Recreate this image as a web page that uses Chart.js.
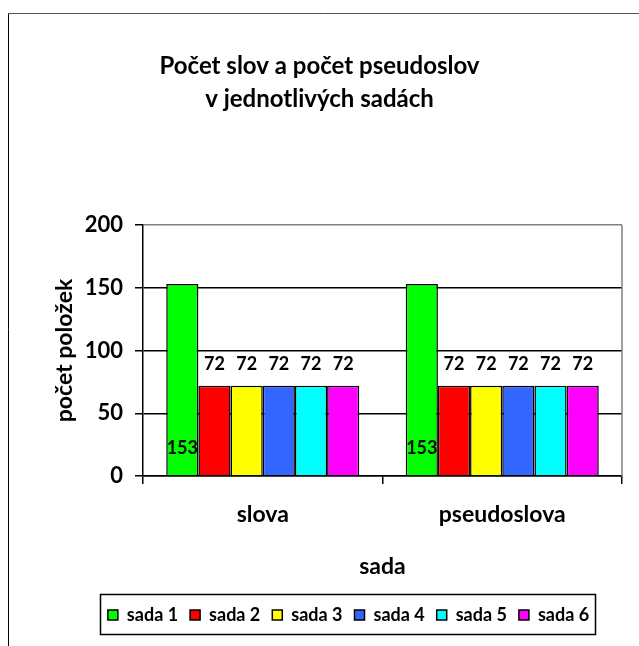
<!DOCTYPE html>
<html>
<head>
<meta charset="utf-8">
<script src="https://cdn.jsdelivr.net/npm/chart.js@4.4.0/dist/chart.umd.min.js"></script>
<style>
html, body { margin: 0; padding: 0; background: #fff; }
canvas { display: block; }
</style>
</head>
<body>
<canvas id="chart" width="639" height="646"></canvas>
<script>
const categories = ['slova', 'pseudoslova'];
const seriesNames = ['sada 1', 'sada 2', 'sada 3', 'sada 4', 'sada 5', 'sada 6'];
const sada1 = [153, 153];
const sada2 = [72, 72];
const sada3 = [72, 72];
const sada4 = [72, 72];
const sada5 = [72, 72];
const sada6 = [72, 72];
const Y_MIN = 0;
const Y_MAX = 200;
const Y_STEP = 50;

const seriesColors = ['#00ff00', '#ff0000', '#ffff00', '#3366ff', '#00ffff', '#ff00ff'];
const allSeries = [sada1, sada2, sada3, sada4, sada5, sada6];

Chart.defaults.font.family = 'Lato, "Open Sans", sans-serif';
Chart.defaults.font.weight = 'bold';
Chart.defaults.color = '#000';

// page frame, white background, grey right edge of the plot
const framePlugin = {
    id: 'frame',
    beforeDraw(chart) {
        const ctx = chart.ctx;
        ctx.save();
        ctx.fillStyle = '#fff';
        ctx.fillRect(0, 0, chart.width, chart.height);
        ctx.lineWidth = 1;
        ctx.strokeStyle = '#000';
        ctx.beginPath();
        ctx.moveTo(8.5, 13);
        ctx.lineTo(8.5, chart.height);
        ctx.stroke();
        ctx.strokeStyle = '#555';
        ctx.beginPath();
        ctx.moveTo(8, 13.5);
        ctx.lineTo(chart.width, 13.5);
        ctx.stroke();
        ctx.restore();
    },
    beforeDatasetsDraw(chart) {
        const a = chart.chartArea;
        const ctx = chart.ctx;
        ctx.save();
        ctx.strokeStyle = '#808080';
        ctx.lineWidth = 1.5;
        ctx.beginPath();
        ctx.moveTo(a.right, a.top);
        ctx.lineTo(a.right, a.bottom);
        ctx.stroke();
        ctx.restore();
    }
};

// legend sits a bit right of the canvas centre in the original
const legendShift = {
    id: 'legendShift',
    afterLayout(chart) {
        chart.legend.left += 29;
        chart.legend.right += 29;
    },
    afterDraw(chart) {
        const lg = chart.legend;
        const hb = lg.legendHitBoxes;
        if (!hb || !hb.length) return;
        const l = Math.min(...hb.map(b => b.left)) - 8;
        const r = Math.max(...hb.map(b => b.left + b.width)) + 6;
        const cy = lg.top + 12 + hb[0].height / 2;
        const ctx = chart.ctx;
        ctx.save();
        ctx.strokeStyle = '#000';
        ctx.lineWidth = 1.5;
        ctx.strokeRect(Math.round(l) + 0.5, Math.round(cy - 21) + 0.5, Math.round(r - l), 40);
        ctx.restore();
    }
};

const valueLabels = {
    id: 'valueLabels',
    afterDatasetsDraw(chart) {
        const ctx = chart.ctx;
        ctx.save();
        ctx.font = 'bold 18px Lato, "Open Sans", sans-serif';
        ctx.fillStyle = '#000';
        ctx.textAlign = 'center';
        ctx.textBaseline = 'middle';
        chart.data.datasets.forEach((ds, i) => {
            chart.getDatasetMeta(i).data.forEach((bar, j) => {
                const y = i === 0 ? bar.base - 27 : bar.y - 21;
                ctx.fillText(String(ds.data[j]), bar.x, y);
            });
        });
        ctx.restore();
    }
};

const ctx = document.getElementById('chart').getContext('2d');
new Chart(ctx, {
    type: 'bar',
    data: {
        labels: categories,
        datasets: allSeries.map((values, i) => ({
            label: seriesNames[i],
            data: values,
            backgroundColor: seriesColors[i],
            borderColor: '#000',
            borderWidth: 1.5,
            categoryPercentage: 0.806,
            barPercentage: 1
        }))
    },
    options: {
        responsive: false,
        animation: false,
        layout: { padding: { left: 17, right: 17, top: 0, bottom: 12 } },
        plugins: {
            tooltip: { enabled: false },
            title: {
                display: true,
                text: ['Počet slov a počet pseudoslov', 'v jednotlivých sadách'],
                font: { size: 24, weight: 'bold', lineHeight: 1.375 },
                color: '#000',
                padding: { top: 50, bottom: 109 }
            },
            legend: {
                position: 'bottom',
                labels: {
                    boxWidth: 10,
                    boxHeight: 10,
                    padding: 12,
                    font: { size: 18, weight: 'bold' },
                    color: '#000'
                }
            }
        },
        scales: {
            x: {
                afterFit(scale) { scale.height = 118; },
                ticks: { padding: 17, font: { size: 23, weight: 'bold' }, color: '#000' },
                grid: { drawOnChartArea: false, color: '#000', tickLength: 8, lineWidth: 1.5 },
                border: { color: '#000', width: 1.5 },
                title: {
                    display: true,
                    text: 'sada',
                    font: { size: 23, weight: 'bold' },
                    color: '#000',
                    padding: { top: 0, bottom: 14 }
                }
            },
            y: {
                min: Y_MIN,
                max: Y_MAX,
                afterFit(scale) { scale.width = 126; },
                ticks: { stepSize: Y_STEP, padding: 12, font: { size: 22, weight: 'bold' }, color: '#000' },
                grid: {
                    color: (c) => (c.tick && c.tick.value === Y_MAX ? '#808080' : '#000'),
                    tickColor: '#000',
                    tickLength: 8,
                    lineWidth: 1.5
                },
                border: { color: '#000', width: 1.5 },
                title: {
                    display: true,
                    text: 'počet položek',
                    font: { size: 23, weight: 'bold' },
                    color: '#000',
                    padding: { top: 34, bottom: 0 }
                }
            }
        }
    },
    plugins: [framePlugin, legendShift, valueLabels]
});
</script>
</body>
</html>
